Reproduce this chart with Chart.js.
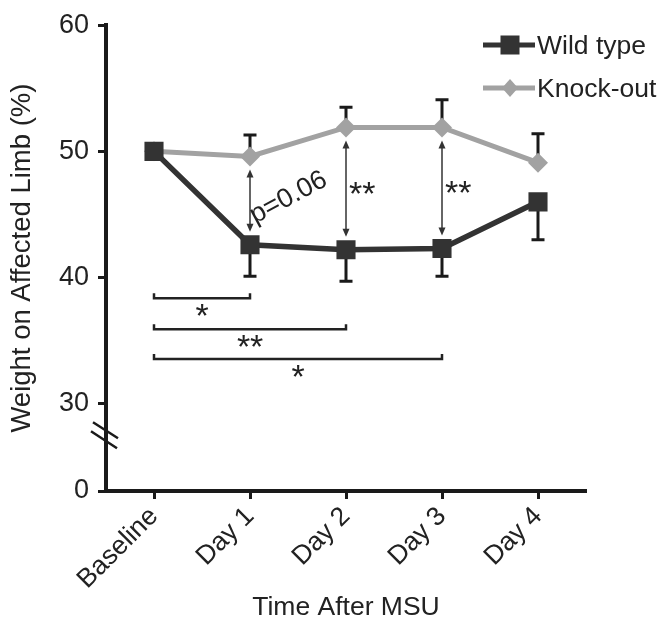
<!DOCTYPE html>
<html lang="en">
<head>
<meta charset="UTF-8">
<title>Weight on Affected Limb</title>
<script src="https://cdn.jsdelivr.net/npm/chart.js"></script>
<style>
  html, body { margin: 0; padding: 0; background: #fff; }
  #chart { display: block; }
</style>
</head>
<body>
<canvas id="chart" width="662" height="625"></canvas>
<script>
const days = ['Baseline', 'Day 1', 'Day 2', 'Day 3', 'Day 4'];
const wildType = [50.0, 42.6, 42.2, 42.3, 46.0];
const knockOut = [50.0, 49.6, 51.9, 51.9, 49.1];
const wildTypeErr = [0, 2.5, 2.5, 2.2, 3.0];   // drawn downward only
const knockOutErr = [0, 1.7, 1.6, 2.2, 2.3];   // drawn upward only
const yTicks = [0, 30, 40, 50, 60];
const brokenFloor = 23.08;   // where "0" sits below the axis break
const breakAt = 27.5;

// wild type vs knock-out on the same day
const pairDays = [1, 2, 3];
const pairLabels = ['p=0.06', '**', '**'];
// wild type vs its baseline
const vsBaseDays = [1, 2, 3];
const vsBaseLevels = [38.35, 35.9, 33.55];
const vsBaseLabels = ['*', '**', '*'];

const family = "'Liberation Sans', Arial, Helvetica, sans-serif";
const wtColor = '#333333';
const koColor = '#a2a2a2';
const ink = '#1a1a1a';

// draw text so the visible glyphs are centred on x,y
function glyphText(ctx, text, x, y, angle, leftAligned) {
  ctx.save();
  ctx.translate(x, y);
  if (angle) ctx.rotate(angle);
  ctx.textAlign = 'left';
  ctx.textBaseline = 'alphabetic';
  const m = ctx.measureText(text);
  const w = m.actualBoundingBoxRight + m.actualBoundingBoxLeft;
  const dx = leftAligned ? m.actualBoundingBoxLeft : -w / 2 + m.actualBoundingBoxLeft;
  const dy = (m.actualBoundingBoxAscent - m.actualBoundingBoxDescent) / 2;
  ctx.fillText(text, dx, dy);
  ctx.restore();
}

function square(ctx, x, y, half) {
  ctx.fillRect(x - half, y - half, half * 2, half * 2);
}
function diamond(ctx, x, y, hw, hh) {
  ctx.beginPath();
  ctx.moveTo(x - hw, y); ctx.lineTo(x, y - hh); ctx.lineTo(x + hw, y); ctx.lineTo(x, y + hh);
  ctx.closePath(); ctx.fill();
}

const extras = {
  id: 'extras',
  beforeDatasetsDraw(chart) {
    const ctx = chart.ctx, xs = chart.scales.x, ys = chart.scales.y;
    ctx.save();
    ctx.strokeStyle = ink;
    ctx.lineWidth = 3;
    const bar = (x, y0, y1) => {
      ctx.beginPath();
      ctx.moveTo(x, y0); ctx.lineTo(x, y1);
      ctx.moveTo(x - 6.5, y1); ctx.lineTo(x + 6.5, y1);
      ctx.stroke();
    };
    days.forEach((d, i) => {
      const x = xs.getPixelForValue(i);
      if (wildTypeErr[i]) bar(x, ys.getPixelForValue(wildType[i]), ys.getPixelForValue(wildType[i] - wildTypeErr[i]));
      if (knockOutErr[i]) bar(x, ys.getPixelForValue(knockOut[i]), ys.getPixelForValue(knockOut[i] + knockOutErr[i]));
    });
    ctx.restore();
  },
  afterDatasetsDraw(chart) {
    const ctx = chart.ctx, xs = chart.scales.x, ys = chart.scales.y;
    ctx.save();

    // double arrows between the genotypes
    pairDays.forEach((d, k) => {
      const x = xs.getPixelForValue(d);
      const top = ys.getPixelForValue(knockOut[d]) + 13;
      const bot = ys.getPixelForValue(wildType[d]) - 13;
      ctx.strokeStyle = '#333';
      ctx.fillStyle = '#333';
      ctx.lineWidth = 1.5;
      ctx.beginPath(); ctx.moveTo(x, top + 6); ctx.lineTo(x, bot - 6); ctx.stroke();
      ctx.beginPath();
      ctx.moveTo(x, top); ctx.lineTo(x - 3.5, top + 8); ctx.lineTo(x + 3.5, top + 8); ctx.closePath();
      ctx.moveTo(x, bot); ctx.lineTo(x - 3.5, bot - 8); ctx.lineTo(x + 3.5, bot - 8); ctx.closePath();
      ctx.fill();
      ctx.fillStyle = '#222';
      const mid = (top + bot) / 2;
      if (pairLabels[k].startsWith('p')) {
        ctx.font = '27px ' + family;
        glyphText(ctx, pairLabels[k], x + 39, mid - 2, -28 * Math.PI / 180);
      } else {
        ctx.font = '34px ' + family;
        glyphText(ctx, pairLabels[k], x + 3, mid - 1, 0, true);
      }
    });

    // brackets against baseline
    const x0 = xs.getPixelForValue(0);
    ctx.strokeStyle = '#222';
    ctx.fillStyle = '#222';
    ctx.lineWidth = 2.5;
    vsBaseDays.forEach((d, k) => {
      const x1 = xs.getPixelForValue(d);
      const y = ys.getPixelForValue(vsBaseLevels[k]);
      ctx.beginPath();
      ctx.moveTo(x0, y - 5); ctx.lineTo(x0, y); ctx.lineTo(x1, y); ctx.lineTo(x1, y - 5);
      ctx.stroke();
      ctx.font = '34px ' + family;
      glyphText(ctx, vsBaseLabels[k], (x0 + x1) / 2, y + 12);
    });

    // axis break marks
    const ax = chart.chartArea.left;
    const by = ys.getPixelForValue(breakAt);
    ctx.strokeStyle = ink;
    ctx.lineWidth = 2.5;
    ctx.beginPath();
    ctx.moveTo(ax - 13, by - 13); ctx.lineTo(ax + 12, by + 3);
    ctx.moveTo(ax - 15, by - 4); ctx.lineTo(ax + 11, by + 13);
    ctx.stroke();

    // legend
    const items = [
      { label: 'Wild type', color: wtColor, y: 45, mark: 'square' },
      { label: 'Knock-out', color: koColor, y: 88, mark: 'diamond' }
    ];
    items.forEach(it => {
      ctx.strokeStyle = it.color;
      ctx.fillStyle = it.color;
      ctx.lineWidth = 5;
      ctx.beginPath(); ctx.moveTo(483, it.y); ctx.lineTo(535, it.y); ctx.stroke();
      if (it.mark === 'square') square(ctx, 510, it.y, 9.5);
      else diamond(ctx, 510, it.y, 8, 9);
      ctx.fillStyle = '#222';
      ctx.font = '26.5px ' + family;
      ctx.textAlign = 'left';
      ctx.textBaseline = 'alphabetic';
      ctx.fillText(it.label, 537, it.y + 9);
    });
    ctx.restore();
  }
};

new Chart(document.getElementById('chart'), {
  type: 'line',
  data: {
    labels: days,
    datasets: [
      {
        label: 'Wild type', data: wildType,
        borderColor: wtColor, backgroundColor: wtColor, borderWidth: 5.5,
        pointStyle: 'rect', pointRadius: 13.5, pointBorderWidth: 0,
        pointBackgroundColor: wtColor, tension: 0
      },
      {
        label: 'Knock-out', data: knockOut,
        borderColor: koColor, backgroundColor: koColor, borderWidth: 5,
        pointStyle: 'rectRot', pointRadius: 10, pointBorderWidth: 0,
        pointBackgroundColor: koColor, tension: 0
      }
    ]
  },
  options: {
    responsive: false,
    animation: false,
    layout: { padding: { top: 21, right: 76, left: 0, bottom: 0 } },
    plugins: { legend: { display: false }, tooltip: { enabled: false } },
    scales: {
      x: {
        offset: true,
        grid: { drawOnChartArea: false, offset: false, tickLength: 8, tickWidth: 3, tickColor: ink },
        border: { width: 4, color: ink },
        ticks: { color: '#222', font: { size: 26.5, family: family }, minRotation: 45, maxRotation: 45, padding: 2 },
        title: { display: true, text: 'Time After MSU', color: '#222', font: { size: 26.5, family: family }, padding: { top: 0, bottom: 1 } },
        afterFit(s) { s.height = 134; }
      },
      y: {
        min: brokenFloor,
        max: 60,
        afterBuildTicks(s) { s.ticks = yTicks.map(v => ({ value: v === 0 ? brokenFloor : v })); },
        grid: { drawOnChartArea: false, tickLength: 8, tickWidth: 3, tickColor: ink },
        border: { width: 4, color: ink },
        ticks: { color: '#222', font: { size: 27, family: family }, padding: 9, callback: (v, i) => String(yTicks[i]) },
        title: { display: true, text: 'Weight on Affected Limb (%)', color: '#222', font: { size: 27.5, family: family }, padding: { top: 6, bottom: 0 } },
        afterFit(s) { s.width = 106; }
      }
    }
  },
  plugins: [extras]
});
</script>
</body>
</html>
